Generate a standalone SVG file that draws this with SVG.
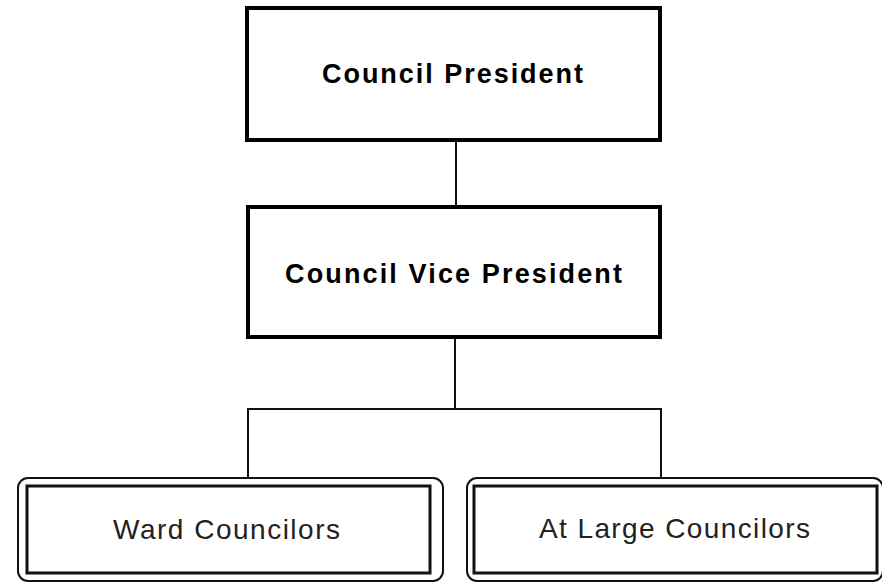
<svg xmlns="http://www.w3.org/2000/svg" width="882" height="582" viewBox="0 0 882 582">
<style>
.box{fill:#fff;stroke:#000;stroke-width:4}
.outer{fill:#fff;stroke:#111;stroke-width:2}
.inner{fill:#fff;stroke:#111;stroke-width:3}
.conn{fill:none;stroke:#111;stroke-width:2}
.t1{font-family:"Liberation Sans",Arial,sans-serif;font-weight:bold;font-size:27px;fill:#000}
.t2{font-family:"Liberation Sans",Arial,sans-serif;font-size:28px;fill:#222}
</style>
<rect width="882" height="582" fill="#fff"/>
<g id="connectors">
<line class="conn" x1="456" y1="142" x2="456" y2="207"/>
<line class="conn" x1="455" y1="337" x2="455" y2="409"/>
<line class="conn" x1="247" y1="409" x2="662" y2="409"/>
<line class="conn" x1="248" y1="409" x2="248" y2="479"/>
<line class="conn" x1="661" y1="409" x2="661" y2="479"/>
</g>
<g id="president">
<rect class="box" x="247" y="8" width="413" height="132"/>
<text class="t1" x="322" y="83" textLength="261" lengthAdjust="spacing">Council President</text>
</g>
<g id="vice-president">
<rect class="box" x="248" y="207" width="412" height="130"/>
<text class="t1" x="285" y="283" textLength="337" lengthAdjust="spacing">Council Vice President</text>
</g>
<g id="ward">
<rect class="outer" x="18" y="478" width="425" height="103" rx="10"/>
<rect class="inner" x="27" y="486" width="403" height="87"/>
<text class="t2" x="113" y="539" textLength="227" lengthAdjust="spacing">Ward Councilors</text>
</g>
<g id="at-large">
<rect class="outer" x="467" y="478" width="416" height="103" rx="10"/>
<rect class="inner" x="474" y="486" width="403" height="87"/>
<text class="t2" x="539" y="538" textLength="271" lengthAdjust="spacing">At Large Councilors</text>
</g>
</svg>
